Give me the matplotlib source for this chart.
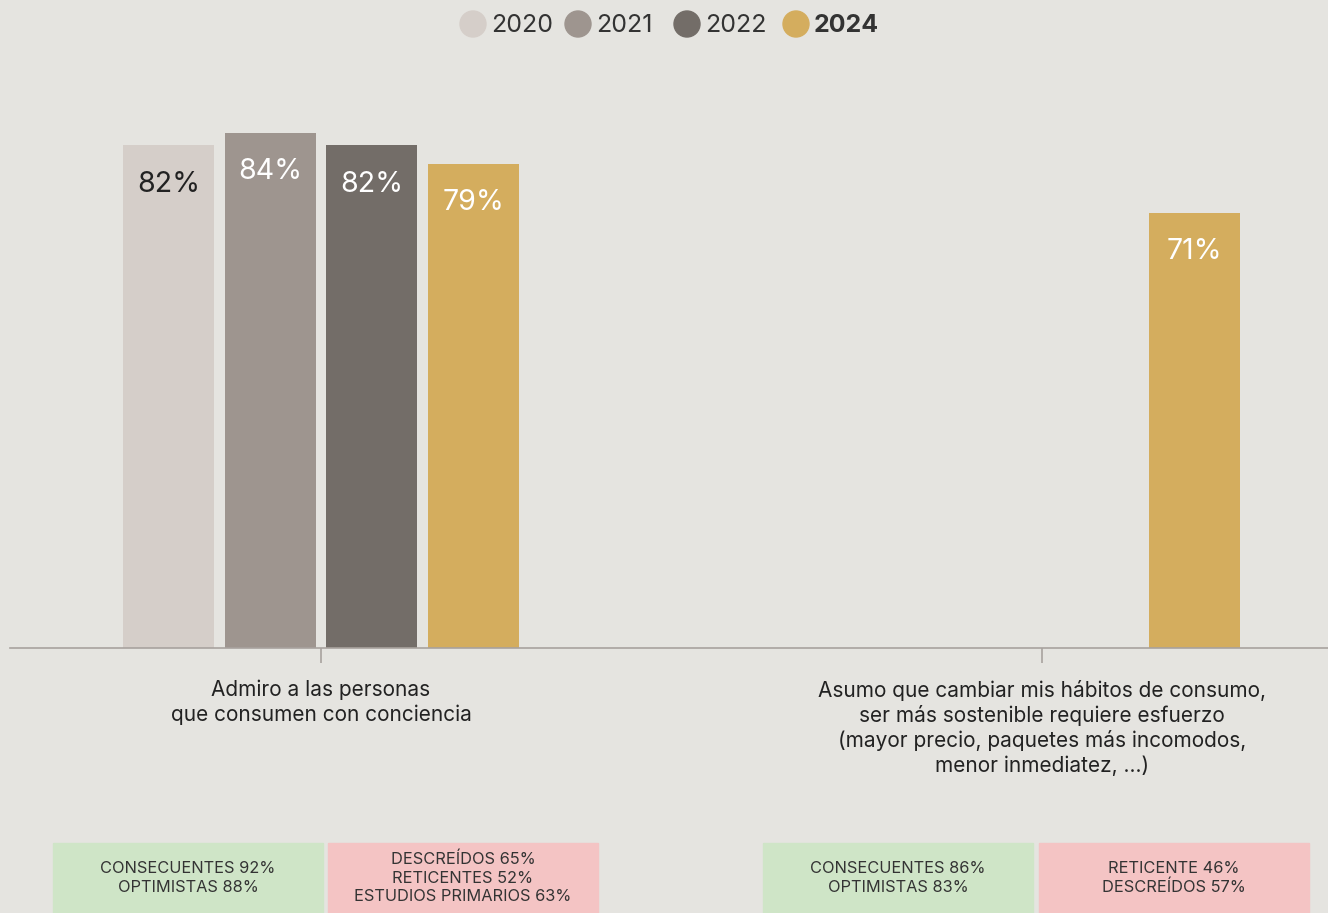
import numpy as np
import matplotlib.pyplot as plt
from matplotlib.patches import Rectangle

plt.rcParams['font.family'] = ['Inter', 'DejaVu Sans']

categories = ["Admiro a las personas\nque consumen con conciencia",
              "Asumo que cambiar mis hábitos de consumo,\nser más sostenible requiere esfuerzo\n(mayor precio, paquetes más incomodos,\nmenor inmediatez, ...)"]
years = ["2020", "2021", "2022", "2024"]
values = {
    "2020": [82, np.nan],
    "2021": [84, np.nan],
    "2022": [82, np.nan],
    "2024": [79, 71],
}
colors = ["#d5cec9", "#9e958f", "#736d68", "#d4ad5e"]
label_colors = ["#222222", "white", "white", "white"]

box_texts = [
    ["CONSECUENTES 92%\nOPTIMISTAS 88%", "DESCREÍDOS 65%\nRETICENTES 52%\nESTUDIOS PRIMARIOS 63%"],
    ["CONSECUENTES 86%\nOPTIMISTAS 83%", "RETICENTE 46%\nDESCREÍDOS 57%"],
]
box_colors = ["#cfe5c7", "#f4c4c4"]

W, H = 1328, 913
bg = "#e5e4e0"
fig = plt.figure(figsize=(W / 100, H / 100), dpi=100, facecolor=bg)

# axes placed in pixel terms
ax = fig.add_axes([10 / W, (H - 648) / H, 1318 / W, (648 - 35) / H])
ax.set_facecolor(bg)
x = np.arange(len(categories))
px = 721.0  # pixels per category step
ax.set_xlim(-311 / px, 1.0 + (1328 - 1042) / px)
ax.set_ylim(0, 100)

bw = 91 / px
step = 101.7 / px
for i, yr in enumerate(years):
    xs = x + (i - 1.5) * step
    vals = np.array(values[yr], dtype=float)
    ax.bar(xs, vals, width=bw, color=colors[i], zorder=2)
    for xx, v in zip(xs, vals):
        if np.isnan(v):
            continue
        ax.annotate(f"{v:.0f}%", (xx, v), xytext=(0, -28), textcoords="offset points",
                    ha="center", va="center", fontsize=20.5, color=label_colors[i])

for s in ["top", "right", "left"]:
    ax.spines[s].set_visible(False)
ax.spines["bottom"].set_color("#a8a29e")
ax.spines["bottom"].set_linewidth(1.2)
ax.set_yticks([])
ax.set_xticks(x)
ax.set_xticklabels(categories, fontsize=15, color="#222222", linespacing=1.25)
ax.tick_params(axis="x", length=11, width=1.2, color="#a8a29e", pad=12)

# legend
lx = [473, 578, 687, 796]
for i, yr in enumerate(years):
    fig.patches.append(plt.Circle((lx[i], H - 24), 13, color=colors[i],
                                  transform=None, figure=fig))
    fig.text((lx[i] + 18) / W, 1 - 26 / H, yr, fontsize=18, color="#333333",
             ha="left", va="center", fontweight="bold" if yr == "2024" else "normal")

# bottom boxes
box_x = [[53, 328], [763, 1039]]
for g in range(len(categories)):
    for j in range(2):
        x0 = box_x[g][j]
        fig.patches.append(Rectangle((x0 / W, 0), 270 / W, 70 / H, color=box_colors[j],
                                     transform=fig.transFigure, figure=fig))
        fig.text((x0 + 135) / W, 35 / H, box_texts[g][j], ha="center", va="center",
                 fontsize=11.8, color="#333333", linespacing=1.3)

fig.savefig("out.png", dpi=100, facecolor=bg)
